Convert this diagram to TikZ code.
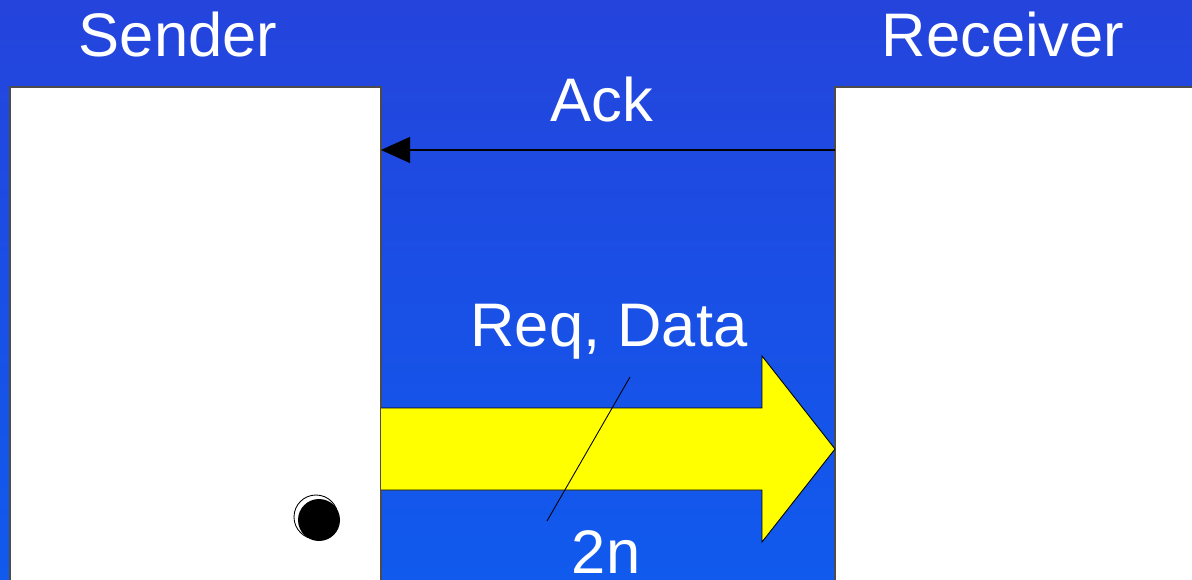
\documentclass[tikz,border=0pt]{standalone}
\usepackage{fontspec}
\setmainfont{Liberation Sans}
\usetikzlibrary{arrows.meta, positioning}

\definecolor{bgtop}{RGB}{36,68,220}
\definecolor{bgbot}{RGB}{16,90,238}
\definecolor{busyellow}{RGB}{255,255,0}

\begin{document}
\begin{tikzpicture}[
        x=0.02cm, y=-0.02cm,
        unit/.style={draw=black!70, fill=white, line width=0.6pt},
        label/.style={text=white, font=\fontsize{35}{40}\selectfont, anchor=base, inner sep=0pt},
        bus/.style={draw=black, fill=busyellow, line width=0.5pt}
    ]
    \useasboundingbox (0,0) rectangle (1192,580);
    \shade[top color=bgtop, bottom color=bgbot] (0,0) rectangle (1192,580);

    % the two sides
    \draw[unit] (10,600) rectangle (381,87);
    \draw[unit] (835,87) rectangle (1210,600);
    \coordinate (sendR) at (381,150);
    \coordinate (recvL) at (835,150);

    \node[label] (sender) at (178,57) {Sender};
    \node[label] (receiver) at (1003,57) {Receiver};

    % handshake
    \node[label] (ack) at (602,122) {Ack};
    \draw[-{Triangle[length=0.58cm, width=0.52cm]}, line width=0.6pt]
        (recvL) -- (sendR);

    % data bundle
    \node[label] (req) at (609,347) {Req, Data};
    \draw[bus] (381,408) -- (762,408) -- (762,356) -- (835,449)
        -- (762,542) -- (762,490) -- (381,490);
    \coordinate (slashA) at (630,377);
    \coordinate (slashB) at (547,521);
    \draw[line width=0.5pt] (slashA) -- (slashB);
    \node[label] (width) at (606,573) {2n};

    % state marker
    \draw[line width=0.5pt] (316,517) circle (22);
    \fill[black] (319,520) circle (21);
\end{tikzpicture}
\end{document}
